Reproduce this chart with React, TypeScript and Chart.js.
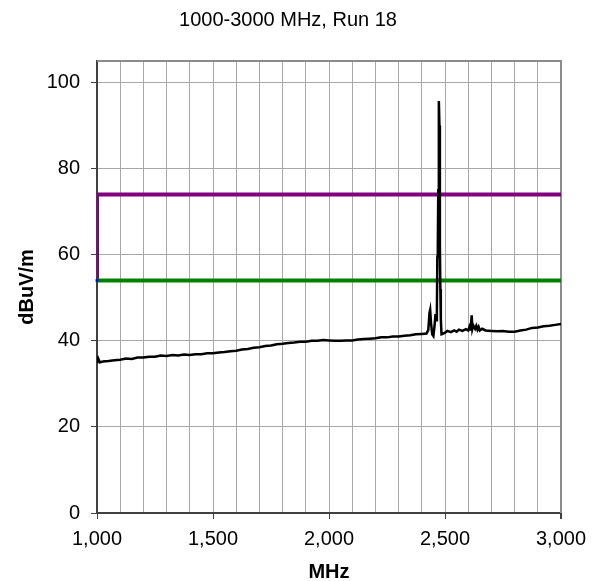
import React, { useEffect, useRef } from "react";
import { Chart, registerables } from "chart.js";

Chart.register(...registerables);

const chartTitle = "1000-3000 MHz, Run 18";
const xAxisTitle = "MHz";
const yAxisTitle = "dBuV/m";

const yTickValues = [0, 20, 40, 60, 80, 100];
const xGridValues = [1000, 1100, 1200, 1300, 1400, 1500, 1600, 1700, 1800, 1900, 2000, 2100, 2200, 2300, 2400, 2500, 2600, 2700, 2800, 2900, 3000];
const xLabelValues = [1000, 1500, 2000, 2500, 3000];

const traceMHz = [
  1000, 1005, 1012, 1025, 1050, 1075, 1100, 1125, 1150, 1175, 1200, 1225, 1250, 1275, 1300,
  1325, 1350, 1375, 1400, 1425, 1450, 1475, 1500, 1525, 1550, 1575, 1600, 1625, 1650, 1675,
  1700, 1725, 1750, 1775, 1800, 1825, 1850, 1875, 1900, 1925, 1950, 1975, 2000, 2025, 2050,
  2075, 2100, 2125, 2150, 2175, 2200, 2225, 2250, 2275, 2300, 2325, 2350, 2375, 2400, 2420,
  2428, 2433, 2436, 2440, 2445, 2450, 2455, 2459, 2462, 2465, 2467, 2469, 2471, 2473, 2474,
  2476, 2478, 2480, 2482, 2485, 2490, 2500, 2510, 2525, 2540, 2550, 2560, 2575, 2590, 2600,
  2605, 2608, 2612, 2615, 2618, 2622, 2630, 2635, 2640, 2645, 2650, 2660, 2675, 2700, 2725,
  2750, 2775, 2800, 2825, 2850, 2875, 2900, 2925, 2950, 2975, 3000
];
const traceDb = [
  34.8, 35.9, 35.0, 35.2, 35.3, 35.5, 35.6, 35.9, 35.8, 36.1, 36.1, 36.3, 36.3, 36.6, 36.5,
  36.7, 36.6, 36.8, 36.7, 36.9, 36.9, 37.1, 37.1, 37.3, 37.4, 37.6, 37.7, 38.0, 38.1, 38.4,
  38.5, 38.8, 38.9, 39.2, 39.3, 39.5, 39.6, 39.8, 39.8, 40.0, 40.0, 40.2, 40.1, 40.0, 40.0,
  40.1, 40.1, 40.3, 40.4, 40.5, 40.6, 40.8, 40.8, 41.0, 41.0, 41.2, 41.3, 41.5, 41.6, 41.7,
  42.5, 46.5, 47.2, 44.0, 41.5, 41.1, 43.5, 46.2, 44.8, 46.5, 59.5, 62.0, 75.0, 88.0, 95.7,
  90.0, 62.0, 52.0, 45.0, 41.5, 41.6, 41.9, 42.3, 42.0, 42.4, 42.1, 42.6, 42.3, 42.7, 42.4,
  43.2, 42.6, 43.6, 45.9, 42.8, 43.6, 42.8, 43.5, 42.6, 43.2, 42.4, 42.8, 42.4, 42.3, 42.2,
  42.3, 42.1, 42.1, 42.4, 42.6, 43.0, 43.1, 43.4, 43.5, 43.7, 43.9
];

const peakLimitMHz = [1000, 1000, 3000];
const peakLimitDb = [54, 74, 74];
const avgLimitMHz = [1000, 3000];
const avgLimitDb = [54, 54];
const markerMHz = [1000];
const markerDb = [54];

const FONT = "'Liberation Sans', Arial, sans-serif";

const toPoints = (xs: number[], ys: number[]) => xs.map((x, i) => ({ x, y: ys[i] }));

const frameBorder = {
  id: "frameBorder",
  beforeDatasetsDraw(chart: any) {
    const { ctx, chartArea } = chart;
    ctx.save();
    ctx.strokeStyle = "#8c8c8c";
    ctx.lineWidth = 2;
    ctx.beginPath();
    ctx.moveTo(chartArea.left, chartArea.top);
    ctx.lineTo(chartArea.right, chartArea.top);
    ctx.lineTo(chartArea.right, chartArea.bottom);
    ctx.stroke();
    ctx.restore();
  },
};

export default function App() {
  const ref = useRef<HTMLCanvasElement | null>(null);

  useEffect(() => {
    if (!ref.current) return;
    const chart = new Chart(ref.current, {
      type: "line",
      data: {
        datasets: [
          {
            data: toPoints(traceMHz, traceDb),
            borderColor: "#000000",
            borderWidth: 2.5,
            pointRadius: 0,
            tension: 0,
          },
          {
            data: toPoints(markerMHz, markerDb),
            showLine: false,
            pointStyle: "rect",
            pointRadius: 2,
            pointBackgroundColor: "#0000ff",
            pointBorderColor: "#0000ff",
            borderWidth: 0,
            clip: 4,
          },
          {
            data: toPoints(avgLimitMHz, avgLimitDb),
            borderColor: "#008000",
            borderWidth: 4,
            pointRadius: 0,
            tension: 0,
          },
          {
            data: toPoints(peakLimitMHz, peakLimitDb),
            borderColor: "#800080",
            borderWidth: 4,
            pointRadius: 0,
            tension: 0,
          },
        ],
      },
      options: {
        animation: false,
        responsive: true,
        maintainAspectRatio: false,
        layout: { padding: { left: 15, right: 37, top: 8, bottom: 0 } },
        plugins: {
          legend: { display: false },
          tooltip: { enabled: false },
          title: {
            display: true,
            text: chartTitle,
            color: "#000",
            font: { family: FONT, size: 20, weight: "normal" },
            padding: { top: 0, bottom: 29 },
          },
        },
        scales: {
          x: {
            type: "linear",
            min: 1000,
            max: 3000,
            afterBuildTicks: (scale: any) => {
              scale.ticks = xGridValues.map((value) => ({ value }));
            },
            afterFit: (scale: any) => {
              scale.height = 68;
            },
            ticks: {
              autoSkip: false,
              maxRotation: 0,
              minRotation: 0,
              padding: 8,
              color: "#000",
              font: { family: FONT, size: 20 },
              callback: (v: any) =>
                xLabelValues.includes(Number(v)) ? Number(v).toLocaleString("en-US") : "",
            },
            grid: {
              color: (c: any) => (c.tick && c.tick.value === 3000 ? "#8c8c8c" : "#a8a8a8"),
              lineWidth: (c: any) => (c.tick && c.tick.value === 3000 ? 2 : 1),
              tickColor: (c: any) =>
                c.tick && xLabelValues.includes(c.tick.value) ? "#404040" : "rgba(0,0,0,0)",
              tickLength: 6,
            },
            border: { color: "#404040", width: 2 },
            title: {
              display: true,
              text: xAxisTitle,
              color: "#000",
              font: { family: FONT, size: 20, weight: "bold" },
              padding: { top: 0, bottom: -3 },
            },
          },
          y: {
            type: "linear",
            min: 0,
            max: 105,
            afterBuildTicks: (scale: any) => {
              scale.ticks = yTickValues.map((value) => ({ value }));
            },
            afterFit: (scale: any) => {
              scale.width = 82;
            },
            ticks: {
              padding: 11,
              color: "#000",
              font: { family: FONT, size: 20 },
              callback: (v: any) => String(v),
            },
            grid: {
              color: "#a8a8a8",
              lineWidth: 1,
              tickColor: "#404040",
              tickLength: 6,
            },
            border: { color: "#404040", width: 2 },
            title: {
              display: true,
              text: yAxisTitle,
              color: "#000",
              font: { family: FONT, size: 20, weight: "bold" },
              padding: { top: 0, bottom: 0 },
            },
          },
        },
      },
      plugins: [frameBorder],
    });
    return () => chart.destroy();
  }, []);

  return (
    <div style={{ position: "fixed", left: 0, top: 0, width: 598, height: 581, background: "#fff" }}>
      <canvas ref={ref} />
    </div>
  );
}
